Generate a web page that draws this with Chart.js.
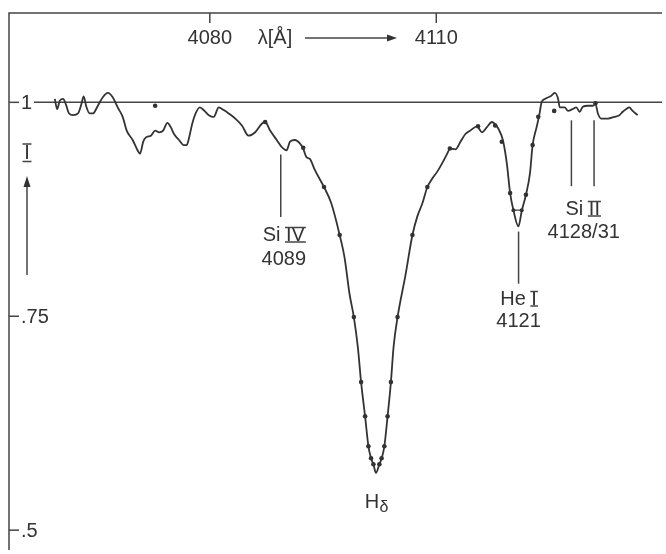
<!DOCTYPE html>
<html>
<head>
<meta charset="utf-8">
<script src="https://cdn.jsdelivr.net/npm/chart.js@4.4.1/dist/chart.umd.min.js"></script>
<style>
  html, body { margin: 0; padding: 0; background: #fff; }
</style>
</head>
<body>
<canvas id="spectrum" width="666" height="554"></canvas>
<script>
// observed profile, wavelength in Angstrom, relative intensity
var wavelength = [4059.47, 4059.78, 4060.13, 4060.57, 4060.92, 4061.36, 4061.88, 4062.54, 4062.99, 4063.29,
  4063.64, 4064.08, 4064.51, 4065.17, 4065.83, 4066.49, 4067.14, 4067.80, 4068.46, 4068.99,
  4069.78, 4070.43, 4070.75, 4071.18, 4071.54, 4072.20, 4072.76, 4073.29, 4073.82, 4074.38,
  4074.83, 4075.26, 4075.92, 4076.58, 4076.93, 4077.24, 4077.67, 4078.12, 4078.68, 4079.30,
  4079.87, 4080.53, 4081.18, 4081.84, 4082.50, 4083.38, 4084.25, 4085.13, 4086.01, 4086.88,
  4087.33, 4087.99, 4088.86, 4089.51, 4090.17, 4090.62, 4091.28, 4091.93, 4092.37, 4092.80,
  4093.25, 4093.91, 4095.13, 4096.09, 4097.20, 4097.86, 4098.51, 4099.08, 4099.61, 4100.04,
  4100.57, 4101.01, 4101.36, 4101.67, 4102.01, 4102.46, 4102.76, 4103.12, 4103.55, 4103.99,
  4104.34, 4104.87, 4105.92, 4106.84, 4107.50, 4108.16, 4108.82, 4109.47, 4110.13, 4110.79,
  4111.45, 4111.80, 4112.54, 4113.20, 4113.86, 4114.51, 4115.39, 4116.05, 4116.71, 4117.37,
  4117.93, 4118.29, 4118.82, 4119.34, 4119.78, 4120.22, 4120.88, 4121.32, 4121.88, 4122.41,
  4122.76, 4123.29, 4123.64, 4123.95, 4124.38, 4125.13, 4125.70, 4126.14, 4126.36, 4127.01,
  4127.46, 4128.03, 4128.55, 4128.99, 4129.43, 4130.09, 4130.75, 4131.09, 4131.41, 4131.84,
  4132.72, 4133.59, 4134.25, 4134.70, 4135.13, 4135.57, 4136.01, 4136.67];
var intensity = [1.004, 0.992, 1.002, 1.004, 0.998, 0.987, 0.985, 0.987, 0.998, 1.007,
  0.995, 0.987, 0.987, 0.996, 1.006, 1.011, 1.006, 0.994, 0.983, 0.967,
  0.956, 0.944, 0.940, 0.954, 0.959, 0.961, 0.967, 0.965, 0.967, 0.976,
  0.971, 0.963, 0.956, 0.950, 0.950, 0.958, 0.975, 0.987, 0.994, 0.990,
  0.985, 0.983, 0.994, 0.991, 0.987, 0.981, 0.973, 0.961, 0.965, 0.975,
  0.977, 0.967, 0.956, 0.948, 0.944, 0.954, 0.956, 0.952, 0.946, 0.936,
  0.934, 0.921, 0.901, 0.882, 0.845, 0.818, 0.776, 0.749, 0.714, 0.673,
  0.633, 0.598, 0.584, 0.577, 0.567, 0.577, 0.584, 0.598, 0.633, 0.673,
  0.714, 0.749, 0.798, 0.845, 0.867, 0.882, 0.901, 0.911, 0.919, 0.929,
  0.940, 0.946, 0.945, 0.954, 0.963, 0.967, 0.972, 0.965, 0.971, 0.977,
  0.973, 0.968, 0.956, 0.929, 0.894, 0.874, 0.855, 0.873, 0.892, 0.917,
  0.950, 0.971, 0.985, 1.000, 1.004, 1.007, 1.011, 1.004, 0.994, 0.994,
  0.990, 0.992, 0.994, 0.989, 0.995, 0.996, 0.996, 0.998, 0.987, 0.981,
  0.981, 0.983, 0.985, 0.989, 0.992, 0.994, 0.990, 0.985];

// plotted comparison points (dots)
var dotWavelength = [4072.76, 4087.33, 4092.37, 4095.13, 4097.20, 4099.08, 4100.04, 4100.57, 4101.01, 4101.36,
  4101.67, 4102.46, 4102.76, 4103.12, 4103.55, 4103.99, 4104.87, 4106.84, 4108.82, 4111.80,
  4115.53, 4117.80, 4118.68, 4119.78, 4121.88, 4122.76, 4123.51, 4125.62, 4131.09];
var dotIntensity = [0.996, 0.977, 0.947, 0.901, 0.845, 0.749, 0.673, 0.633, 0.598, 0.584,
  0.577, 0.577, 0.584, 0.598, 0.633, 0.673, 0.749, 0.845, 0.901, 0.946,
  0.972, 0.973, 0.954, 0.894, 0.892, 0.950, 0.983, 0.990, 0.999];

// short bar across the He I core
var barWavelength = [4120.22, 4121.32];
var barIntensity = [0.874, 0.874];

var xTicks = [4080, 4110];
var yTicks = [1, 0.75, 0.5];
var yTickLabels = ['1', '.75', '.5'];

// line identifications
var lineWavelength = [4089.4, 4120.9, 4127.9, 4130.9];

var ink = '#333333';
var font = '20px "Liberation Sans", Arial, sans-serif';

function pairs(xs, ys) {
  return xs.map(function (x, i) { return { x: x, y: ys[i] }; });
}

// draw text with roman numeral bars over and under part of it
function romanText(ctx, pre, num, cx, cy) {
  var wPre = ctx.measureText(pre).width;
  var wNum = ctx.measureText(num).width;
  var x0 = cx - (wPre + wNum) / 2;
  ctx.textAlign = 'left';
  ctx.fillText(pre + num, x0, cy);
  var nx = x0 + wPre - 1;
  ctx.beginPath();
  ctx.moveTo(nx, cy - 7.5); ctx.lineTo(nx + wNum + 2, cy - 7.5);
  ctx.moveTo(nx, cy + 7); ctx.lineTo(nx + wNum + 2, cy + 7);
  ctx.stroke();
  ctx.textAlign = 'center';
}

var frame = {
  id: 'frame',
  beforeDatasetsDraw: function (chart) {
    var ctx = chart.ctx, a = chart.chartArea;
    var xs = chart.scales.x, ys = chart.scales.y;
    ctx.save();
    ctx.strokeStyle = '#444';
    ctx.lineWidth = 1.5;
    ctx.beginPath();
    ctx.moveTo(a.left, a.bottom);
    ctx.lineTo(a.left, a.top);
    ctx.lineTo(a.right, a.top);
    ctx.stroke();

    // continuum level
    var y1 = ys.getPixelForValue(1);
    ctx.beginPath();
    ctx.moveTo(a.left + 25, y1);
    ctx.lineTo(a.right, y1);
    ctx.stroke();

    ctx.fillStyle = ink;
    ctx.font = font;
    ctx.textBaseline = 'middle';

    // top axis ticks, pointing inwards
    ctx.textAlign = 'center';
    xTicks.forEach(function (t) {
      var px = xs.getPixelForValue(t);
      ctx.beginPath();
      ctx.moveTo(px, a.top);
      ctx.lineTo(px, a.top + 10);
      ctx.stroke();
      ctx.fillText(String(t), px, a.top + 25);
    });

    // axis title with arrow
    ctx.fillText('\u03bb[\u00c5]', 275, a.top + 25);
    ctx.beginPath();
    ctx.moveTo(305, a.top + 25);
    ctx.lineTo(390, a.top + 25);
    ctx.stroke();
    ctx.beginPath();
    ctx.moveTo(397, a.top + 25);
    ctx.lineTo(387, a.top + 21.5);
    ctx.lineTo(387, a.top + 28.5);
    ctx.closePath();
    ctx.fill();

    // left axis ticks, pointing inwards
    ctx.textAlign = 'left';
    yTicks.forEach(function (t, i) {
      var py = ys.getPixelForValue(t);
      ctx.beginPath();
      ctx.moveTo(a.left, py);
      ctx.lineTo(a.left + 10, py);
      ctx.stroke();
      ctx.fillText(yTickLabels[i], a.left + 12, py + 1);
    });

    // intensity label and arrow
    ctx.textAlign = 'center';
    ctx.fillText('I', 27, 153);
    ctx.beginPath();
    ctx.moveTo(22.5, 144); ctx.lineTo(31.5, 144);
    ctx.moveTo(22.5, 161.5); ctx.lineTo(31.5, 161.5);
    ctx.stroke();
    ctx.beginPath();
    ctx.moveTo(27, 275);
    ctx.lineTo(27, 185);
    ctx.stroke();
    ctx.beginPath();
    ctx.moveTo(27, 176);
    ctx.lineTo(23.5, 187);
    ctx.lineTo(30.5, 187);
    ctx.closePath();
    ctx.fill();
    ctx.restore();
  },
  afterDatasetsDraw: function (chart) {
    var ctx = chart.ctx;
    var xs = chart.scales.x, ys = chart.scales.y;
    ctx.save();
    ctx.strokeStyle = '#444';
    ctx.fillStyle = ink;
    ctx.lineWidth = 1.5;
    ctx.font = font;
    ctx.textAlign = 'center';
    ctx.textBaseline = 'middle';

    function tickLine(w, top, bottom) {
      var px = xs.getPixelForValue(w);
      ctx.beginPath();
      ctx.moveTo(px, ys.getPixelForValue(top));
      ctx.lineTo(px, ys.getPixelForValue(bottom));
      ctx.stroke();
      return px;
    }

    // Si IV 4089
    var p = tickLine(lineWavelength[0], 0.939, 0.866);
    romanText(ctx, 'Si ', 'IV', p + 3, 235);
    ctx.fillText('4089', p + 3, 259);

    // He I 4121
    p = tickLine(lineWavelength[1], 0.849, 0.788);
    romanText(ctx, 'He ', 'I', p, 299);
    ctx.fillText('4121', p, 321);

    // Si II 4128/31
    var p1 = tickLine(lineWavelength[2], 0.979, 0.902);
    var p2 = tickLine(lineWavelength[3], 0.979, 0.902);
    romanText(ctx, 'Si ', 'II', (p1 + p2) / 2, 209);
    ctx.fillText('4128/31', (p1 + p2) / 2 + 1, 232);

    // H delta
    ctx.fillText('H', 372, 502);
    ctx.font = '16px "Liberation Sans", Arial, sans-serif';
    ctx.fillText('\u03b4', 384, 508);
    ctx.restore();
  }
};

new Chart(document.getElementById('spectrum'), {
  type: 'line',
  data: {
    datasets: [
      {
        data: pairs(wavelength, intensity),
        borderColor: ink,
        borderWidth: 1.8,
        pointRadius: 0,
        cubicInterpolationMode: 'monotone'
      },
      {
        data: pairs(dotWavelength, dotIntensity),
        showLine: false,
        pointRadius: 2.3,
        pointBorderWidth: 0,
        pointBackgroundColor: ink
      },
      {
        data: pairs(barWavelength, barIntensity),
        borderColor: ink,
        borderWidth: 1.2,
        pointRadius: 2,
        pointBorderWidth: 0,
        pointBackgroundColor: ink
      }
    ]
  },
  options: {
    responsive: false,
    animation: false,
    layout: { padding: { left: 9, top: 13, right: 0, bottom: 0 } },
    scales: {
      x: { type: 'linear', min: 4053.4, max: 4139.9, display: false },
      y: { type: 'linear', min: 0.4768, max: 1.1044, display: false }
    },
    plugins: {
      legend: { display: false },
      tooltip: { enabled: false }
    }
  },
  plugins: [frame]
});
</script>
</body>
</html>
